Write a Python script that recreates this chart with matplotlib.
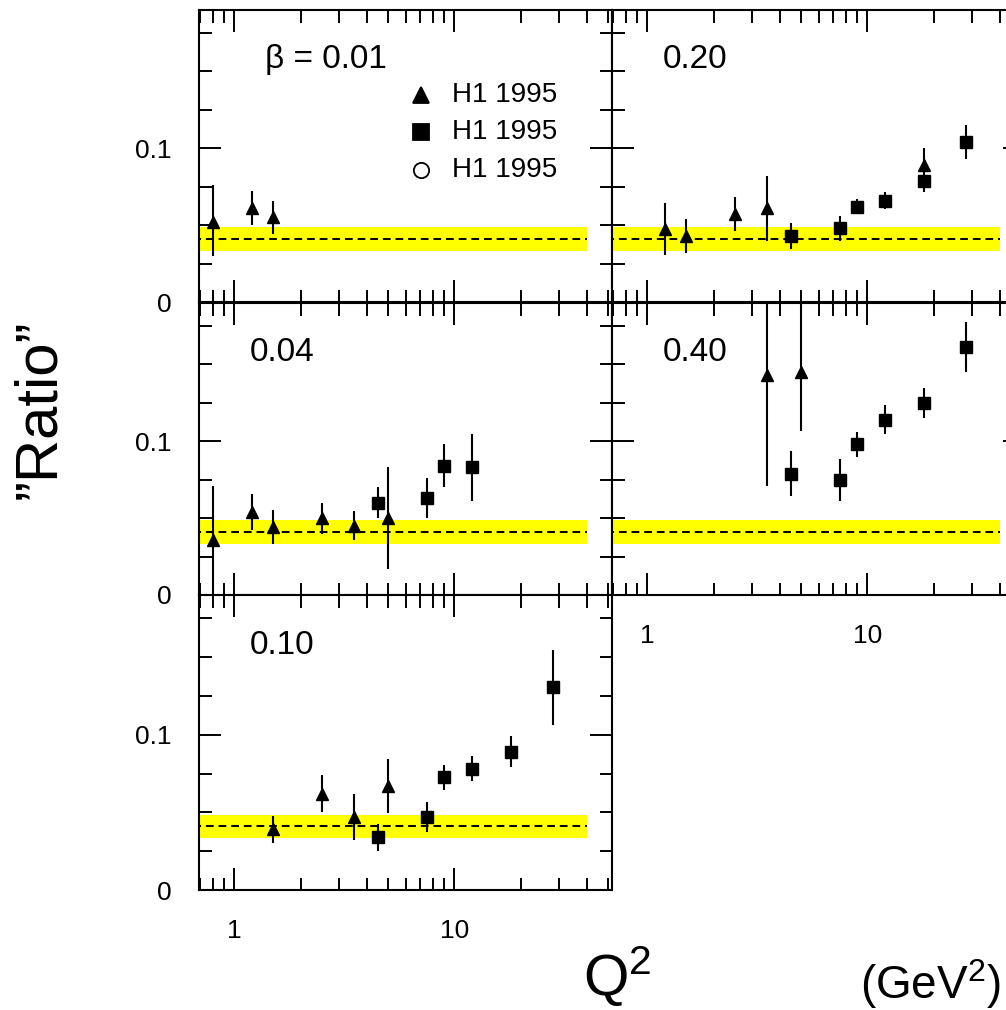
import numpy as np
import matplotlib
matplotlib.use('Agg')
import matplotlib.pyplot as plt
from matplotlib.ticker import FixedLocator, LogLocator, NullFormatter, FixedFormatter

plt.rcParams['font.family'] = ['Liberation Sans', 'DejaVu Sans']
plt.rcParams['mathtext.fontset'] = 'custom'
plt.rcParams['mathtext.rm'] = 'Liberation Sans'
plt.rcParams['mathtext.default'] = 'regular'

# beta bins
betas = ['0.01', '0.04', '0.10', '0.20', '0.40']

# triangles (low Q2 sample)
tri_q2 = {
    '0.01': [0.8, 1.2, 1.5],
    '0.04': [0.8, 1.2, 1.5, 2.5, 3.5, 5.0],
    '0.10': [1.5, 2.5, 3.5, 5.0],
    '0.20': [1.2, 1.5, 2.5, 3.5, 18],
    '0.40': [3.5, 5.0],
}
tri_val = {
    '0.01': [0.052, 0.061, 0.055],
    '0.04': [0.036, 0.054, 0.044, 0.050, 0.045, 0.050],
    '0.10': [0.039, 0.062, 0.047, 0.067],
    '0.20': [0.0475, 0.043, 0.0575, 0.061, 0.089],
    '0.40': [0.143, 0.145],
}
tri_err_lo = {
    '0.01': [0.022, 0.011, 0.011],
    '0.04': [0.035, 0.012, 0.011, 0.010, 0.0095, 0.033],
    '0.10': [0.0086, 0.012, 0.015, 0.0175],
    '0.20': [0.017, 0.011, 0.011, 0.021, 0.011],
    '0.40': [0.072, 0.038],
}
tri_err_hi = {
    '0.01': [0.024, 0.011, 0.011],
    '0.04': [0.035, 0.012, 0.011, 0.010, 0.0095, 0.033],
    '0.10': [0.0086, 0.012, 0.015, 0.0175],
    '0.20': [0.017, 0.011, 0.011, 0.021, 0.011],
    '0.40': [0.08, 0.06],
}

# squares (nominal sample)
sq_q2 = {
    '0.01': [],
    '0.04': [4.5, 7.5, 9.0, 12],
    '0.10': [4.5, 7.5, 9.0, 12, 18, 28],
    '0.20': [4.5, 7.5, 9.0, 12, 18, 28],
    '0.40': [4.5, 7.5, 9.0, 12, 18, 28],
}
sq_val = {
    '0.01': [],
    '0.04': [0.060, 0.063, 0.084, 0.083],
    '0.10': [0.034, 0.047, 0.0725, 0.078, 0.089, 0.1305],
    '0.20': [0.043, 0.048, 0.062, 0.066, 0.079, 0.104],
    '0.40': [0.079, 0.075, 0.098, 0.114, 0.125, 0.1615],
}
sq_err = {
    '0.01': [],
    '0.04': [0.010, 0.013, 0.014, 0.022],
    '0.10': [0.0086, 0.0098, 0.008, 0.008, 0.010, 0.024],
    '0.20': [0.0087, 0.008, 0.005, 0.0057, 0.0075, 0.011],
    '0.40': [0.0144, 0.0136, 0.008, 0.0095, 0.0096, 0.0164],
}

# expectation and its uncertainty band
ref_value = 0.041
band_lo, band_hi = 0.0335, 0.0485
band_q2_max = 40

legend_labels = ['H1 1995', 'H1 1995', 'H1 1995']

fig = plt.figure(figsize=(10.06, 10.10), dpi=100)

W = 413 / 1006
x_left = 199 / 1006
x_right = 612 / 1006
rows = [(1 - 302 / 1010, 292 / 1010),
        (1 - 595 / 1010, 292 / 1010),
        (1 - 890 / 1010, 295 / 1010)]

# (beta, column x, row, show x labels, show y labels)
layout = [
    ('0.01', x_left, 0, False, True),
    ('0.04', x_left, 1, False, True),
    ('0.10', x_left, 2, True, True),
    ('0.20', x_right, 0, False, False),
    ('0.40', x_right, 1, True, False),
]

axes = {}
for b, x0, r, xlab, ylab in layout:
    y0, h = rows[r]
    ax = fig.add_axes([x0, y0, W, h])
    axes[b] = ax
    ax.set_xscale('log')
    ax.set_xlim(0.69, 52)
    ax.set_ylim(0, 0.19)

    ax.fill_between([0.5, band_q2_max], band_lo, band_hi, color='#ffff00', lw=0, zorder=1)
    ax.plot([0.5, band_q2_max], [ref_value, ref_value], color='k', lw=1.4,
            ls=(0, (4, 2.5)), zorder=2)

    if tri_q2[b]:
        ax.errorbar(tri_q2[b], tri_val[b], yerr=[tri_err_lo[b], tri_err_hi[b]],
                    fmt='^', ms=8, color='k', elinewidth=1.5, capsize=0, zorder=3)
    if sq_q2[b]:
        ax.errorbar(sq_q2[b], sq_val[b], yerr=sq_err[b],
                    fmt='s', ms=8, color='k', elinewidth=1.5, capsize=0, zorder=3)

    label = ('\u03b2 = ' + b) if b == '0.01' else b
    lx = 0.16 if b == '0.01' else 0.122
    ax.text(lx, 0.829, label, transform=ax.transAxes, fontsize=24,
            ha='left', va='center')

    for s in ax.spines.values():
        s.set_linewidth(1.5)
    ax.xaxis.set_major_locator(FixedLocator([0.1, 1, 10, 100]))
    ax.xaxis.set_minor_locator(LogLocator(base=10, subs=np.arange(2, 10) * 1.0, numticks=20))
    ax.xaxis.set_minor_formatter(NullFormatter())
    ax.yaxis.set_major_locator(FixedLocator([0, 0.1]))
    ax.yaxis.set_minor_locator(FixedLocator(np.arange(0, 0.2, 0.025)))
    ax.tick_params(which='both', direction='in', top=True, right=True, width=1.4)
    ax.tick_params(which='major', length=16)
    ax.tick_params(which='minor', length=9)
    ax.tick_params(axis='x', which='major', labelsize=19, pad=21)
    ax.tick_params(axis='y', which='major', labelsize=19, pad=20)
    if xlab:
        ax.xaxis.set_major_formatter(FixedFormatter(['0.1', '1', '10', '100']))
    else:
        ax.tick_params(axis='x', labelbottom=False)
    if ylab:
        ax.yaxis.set_major_formatter(FixedFormatter(['0', '0.1']))
    else:
        ax.tick_params(axis='y', labelleft=False)

# legend drawn by hand in the first panel
ax = axes['0.01']
leg_y = [0.709, 0.582, 0.452]
leg_style = [dict(marker='^', mfc='k'), dict(marker='s', mfc='k'), dict(marker='o', mfc='white')]
for yy, st, txt in zip(leg_y, leg_style, legend_labels):
    ax.plot([0.537], [yy], transform=ax.transAxes, ls='none', ms=11,
            mec='k', mew=1.3, clip_on=False, **st)
    ax.text(0.613, yy, txt, transform=ax.transAxes, fontsize=20, ha='left', va='center')

fig.text(40 / 1006, 1 - 409 / 1010, '\u201dRatio\u201d', rotation=90, fontsize=43,
         ha='center', va='center')
fig.text(583 / 1006, 1 - 996 / 1010, 'Q$^2$', fontsize=42, ha='left', va='baseline')
fig.text(860 / 1006, 1 - 999 / 1010, '(GeV$^2$)', fontsize=33, ha='left', va='baseline')

fig.savefig('out.png', dpi=100)
